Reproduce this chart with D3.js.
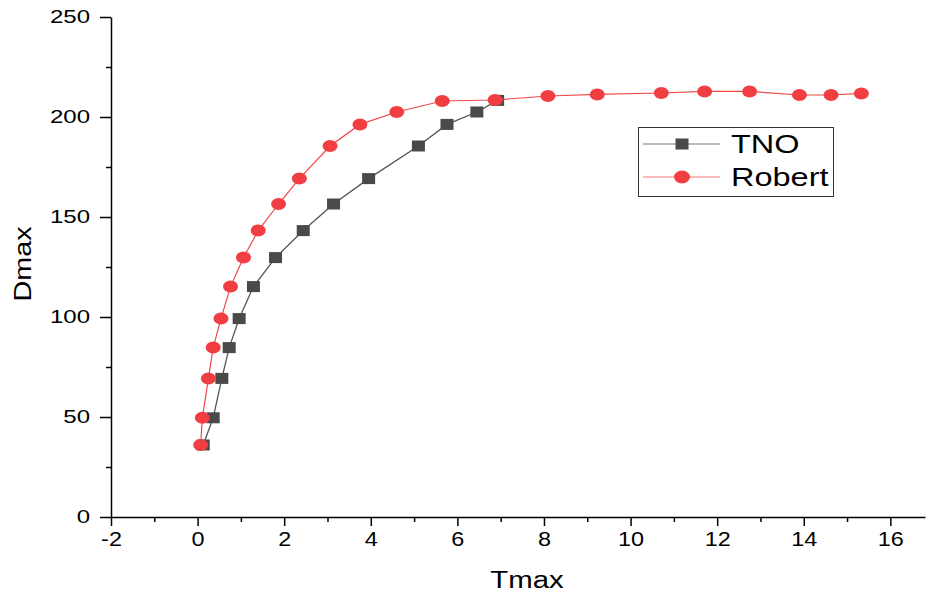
<!DOCTYPE html>
<html>
<head>
<meta charset="utf-8">
<script src="https://cdn.jsdelivr.net/npm/d3@7"></script>
<style>
  body { margin: 0; background: #fff; }
  svg { display: block; font-family: "Liberation Sans", Arial, sans-serif; }
</style>
</head>
<body>
<svg id="chart" width="928" height="596"></svg>
<script>
// Shared Dmax values (both series sit on the same Dmax levels)
const dmaxTno = [36, 49.6, 69.3, 84.7, 99.2, 115.2, 129.7, 143.2, 156.5, 169.2, 185.5, 196.3, 202.5, 208.3];
const tmaxTno = [0.13, 0.36, 0.56, 0.73, 0.96, 1.29, 1.80, 2.44, 3.14, 3.95, 5.10, 5.76, 6.45, 6.93];

const dmaxRobert = [36, 49.6, 69.3, 84.7, 99.2, 115.2, 129.7, 143.2, 156.5, 169.2, 185.5, 196.3, 202.5, 208,
  208.5, 210.5, 211.3, 212, 212.8, 212.8, 211, 211, 211.8];
const tmaxRobert = [0.07, 0.11, 0.25, 0.36, 0.54, 0.76, 1.06, 1.40, 1.87, 2.35, 3.06, 3.75, 4.60, 5.65,
  6.87, 8.09, 9.23, 10.71, 11.71, 12.75, 13.90, 14.63, 15.33];

const xTicks = [-2, 0, 2, 4, 6, 8, 10, 12, 14, 16];
const yTicks = [0, 50, 100, 150, 200, 250];

const seriesNames = ['TNO', 'Robert'];

const tno = tmaxTno.map((x, i) => ({ x, y: dmaxTno[i] }));
const robert = tmaxRobert.map((x, i) => ({ x, y: dmaxRobert[i] }));

// the original export has wide-set lettering, so widen the text a bit
function stretch(sel, k) {
  sel.each(function () {
    const w = this.getComputedTextLength();
    this.setAttribute('textLength', w * k);
    this.setAttribute('lengthAdjust', 'spacingAndGlyphs');
  });
}

const svg = d3.select('#chart');

const x = d3.scaleLinear().domain([-2, 16.8]).range([111, 925]);
const y = d3.scaleLinear().domain([0, 250]).range([517, 17]);

// x axis with minor ticks
const xMinor = d3.range(-1, 17, 2);
svg.append('g')
  .attr('transform', `translate(0,${y(0)})`)
  .call(d3.axisBottom(x).tickValues(xMinor).tickSize(5).tickFormat(''))
  .call(g => g.select('.domain').remove())
  .selectAll('line').attr('stroke', '#000').attr('stroke-width', 1.5);

const xAxis = svg.append('g')
  .attr('transform', `translate(0,${y(0)})`)
  .call(d3.axisBottom(x).tickValues(xTicks).tickSize(9).tickSizeOuter(0).tickPadding(6).tickFormat(d => String(d)));
xAxis.select('.domain').attr('stroke', '#000').attr('stroke-width', 1.5);
xAxis.selectAll('line').attr('stroke', '#000').attr('stroke-width', 1.5);
xAxis.selectAll('text').attr('fill', '#000').style('font-size', '19.5px').call(stretch, 1.2);

// y axis with minor ticks
const yMinor = d3.range(25, 250, 50);
svg.append('g')
  .attr('transform', `translate(${x(-2)},0)`)
  .call(d3.axisLeft(y).tickValues(yMinor).tickSize(5).tickFormat(''))
  .call(g => g.select('.domain').remove())
  .selectAll('line').attr('stroke', '#000').attr('stroke-width', 1.5);

const yAxis = svg.append('g')
  .attr('transform', `translate(${x(-2)},0)`)
  .call(d3.axisLeft(y).tickValues(yTicks).tickSize(11).tickSizeOuter(0).tickPadding(10));
yAxis.select('.domain').attr('stroke', '#000').attr('stroke-width', 1.5);
yAxis.selectAll('line').attr('stroke', '#000').attr('stroke-width', 1.5);
yAxis.selectAll('text').attr('fill', '#000').style('font-size', '18.5px').call(stretch, 1.3);

// axis titles
svg.append('text')
  .attr('x', 527).attr('y', 588)
  .attr('text-anchor', 'middle')
  .style('font-size', '23.5px')
  .text('Tmax')
  .call(stretch, 1.25);

svg.append('text')
  .attr('transform', 'translate(31,264) rotate(-90)')
  .attr('text-anchor', 'middle')
  .style('font-size', '24px')
  .text('Dmax')
  .call(stretch, 1.2);

const line = d3.line().x(d => x(d.x)).y(d => y(d.y));

// TNO
svg.append('path')
  .datum(tno)
  .attr('fill', 'none')
  .attr('stroke', '#555')
  .attr('stroke-width', 1.3)
  .attr('d', line);

svg.selectAll('.sq')
  .data(tno)
  .enter()
  .append('rect')
  .attr('class', 'sq')
  .attr('x', d => x(d.x) - 6.5)
  .attr('y', d => y(d.y) - 5.5)
  .attr('width', 13)
  .attr('height', 11)
  .attr('fill', '#4a4a4a');

// Robert
svg.append('path')
  .datum(robert)
  .attr('fill', 'none')
  .attr('stroke', '#f04848')
  .attr('stroke-width', 1.2)
  .attr('d', line);

svg.selectAll('.dot')
  .data(robert)
  .enter()
  .append('ellipse')
  .attr('class', 'dot')
  .attr('cx', d => x(d.x))
  .attr('cy', d => y(d.y))
  .attr('rx', 7.5)
  .attr('ry', 6)
  .attr('fill', '#f03e42');

// legend
const legend = svg.append('g');
legend.append('rect')
  .attr('x', 638.5).attr('y', 127.5)
  .attr('width', 195).attr('height', 69)
  .attr('fill', '#fff')
  .attr('stroke', '#333')
  .attr('stroke-width', 1);

const rows = legend.selectAll('.row')
  .data(seriesNames)
  .enter()
  .append('g')
  .attr('class', 'row')
  .attr('transform', (d, i) => `translate(0,${144 + i * 33})`);

rows.append('line')
  .attr('x1', 643).attr('x2', 720)
  .attr('stroke', (d, i) => i === 0 ? '#777' : '#f47a7a')
  .attr('stroke-width', 1.2);

rows.filter((d, i) => i === 0).append('rect')
  .attr('x', 682 - 6.5).attr('y', -5.5)
  .attr('width', 13).attr('height', 11)
  .attr('fill', '#4a4a4a');

rows.filter((d, i) => i === 1).append('ellipse')
  .attr('cx', 682).attr('cy', 0)
  .attr('rx', 8).attr('ry', 6.5)
  .attr('fill', '#f03e42');

rows.append('text')
  .attr('x', 731).attr('y', 9)
  .style('font-size', '25px')
  .text(d => d)
  .call(stretch, 1.3);
</script>
</body>
</html>
